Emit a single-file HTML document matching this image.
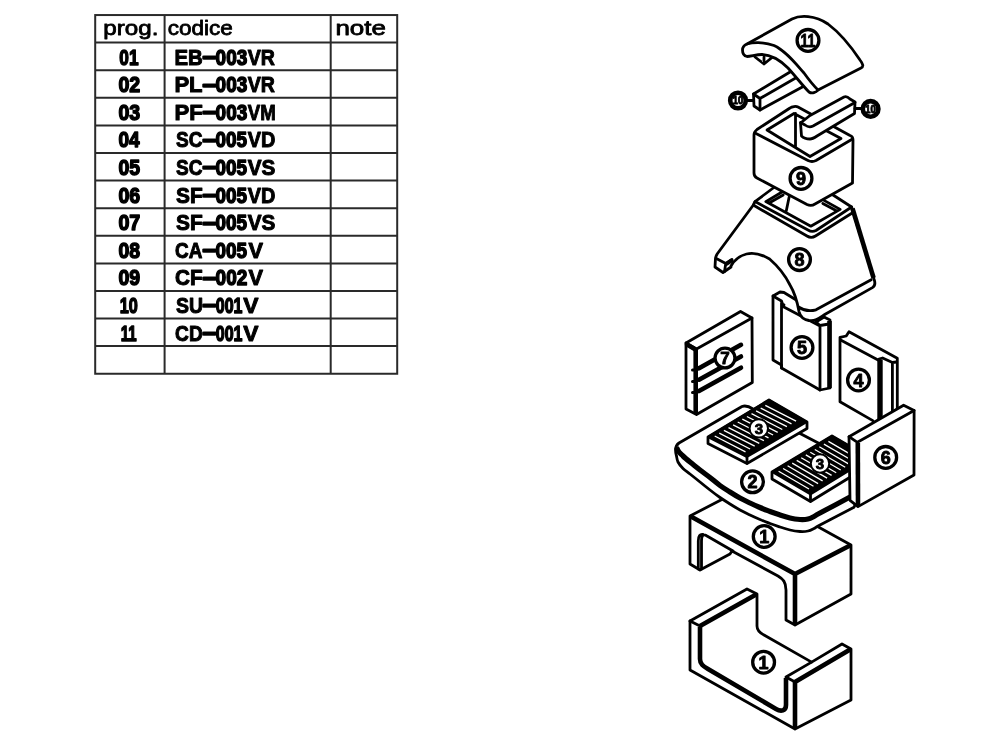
<!DOCTYPE html>
<html><head><meta charset="utf-8"><title>esploso</title>
<style>
html,body{margin:0;padding:0;background:#fff}
svg{display:block;will-change:transform}
.t{font-family:"Liberation Sans",sans-serif;font-weight:bold;font-size:22.4px;fill:#000;stroke:#000;stroke-width:1;stroke-linejoin:round}
.d{stroke-width:1.5}
.h{font-family:"Liberation Sans",sans-serif;font-size:20.5px;fill:#000;stroke:#000;stroke-width:.8;stroke-linejoin:round}
.n{font-family:"Liberation Sans",sans-serif;font-weight:bold;fill:#000;text-anchor:middle;stroke:#000;stroke-width:.9;stroke-linejoin:round}
.p{fill:#fff;stroke:#000;stroke-width:2.8;stroke-linejoin:round;stroke-linecap:round}
.l{fill:none;stroke:#000;stroke-width:2.8;stroke-linejoin:round;stroke-linecap:round}
.k{fill:none;stroke:#000;stroke-width:4.6;stroke-linejoin:round;stroke-linecap:butt}
.c{fill:#fff;stroke:#000;stroke-width:3.3}
</style></head><body>
<svg width="1000" height="750" viewBox="0 0 1000 750">
<rect width="1000" height="750" fill="#fff"/>

<g fill="none" stroke="#2a2a2a" stroke-width="2">
<rect x="95.2" y="15.05" width="302.0" height="358.7"/>
<line x1="164.6" y1="15.05" x2="164.6" y2="373.7"/>
<line x1="330.7" y1="15.05" x2="330.7" y2="373.7"/>
<line x1="95.2" y1="42.6" x2="397.2" y2="42.6"/>
<line x1="95.2" y1="70.2" x2="397.2" y2="70.2"/>
<line x1="95.2" y1="97.8" x2="397.2" y2="97.8"/>
<line x1="95.2" y1="125.4" x2="397.2" y2="125.4"/>
<line x1="95.2" y1="153.0" x2="397.2" y2="153.0"/>
<line x1="95.2" y1="180.6" x2="397.2" y2="180.6"/>
<line x1="95.2" y1="208.2" x2="397.2" y2="208.2"/>
<line x1="95.2" y1="235.8" x2="397.2" y2="235.8"/>
<line x1="95.2" y1="263.4" x2="397.2" y2="263.4"/>
<line x1="95.2" y1="290.9" x2="397.2" y2="290.9"/>
<line x1="95.2" y1="318.5" x2="397.2" y2="318.5"/>
<line x1="95.2" y1="346.1" x2="397.2" y2="346.1"/>
</g>
<text class="h" x="103.3" y="34.9" textLength="55.1" lengthAdjust="spacingAndGlyphs">prog.</text>
<text class="h" x="167.7" y="34.9" textLength="65.2" lengthAdjust="spacingAndGlyphs">codice</text>
<text class="h" x="335.4" y="34.9" textLength="50.5" lengthAdjust="spacingAndGlyphs">note</text>
<text class="t d" x="119.3" y="64.6" textLength="19.2" lengthAdjust="spacingAndGlyphs">01</text>
<text class="t" y="64.6"><tspan x="174.5" textLength="28.3" lengthAdjust="spacingAndGlyphs">EB</tspan><tspan class="d" dy="-1.6" x="202.0" textLength="14.9" lengthAdjust="spacingAndGlyphs">-</tspan><tspan class="d" dy="1.6" x="215.6" textLength="31.6" lengthAdjust="spacingAndGlyphs">003</tspan><tspan x="247.8" textLength="27.2" lengthAdjust="spacingAndGlyphs">VR</tspan></text>
<text class="t d" x="118.4" y="92.2" textLength="21.8" lengthAdjust="spacingAndGlyphs">02</text>
<text class="t" y="92.2"><tspan x="174.4" textLength="28.2" lengthAdjust="spacingAndGlyphs">PL</tspan><tspan class="d" dy="-1.6" x="202.0" textLength="14.9" lengthAdjust="spacingAndGlyphs">-</tspan><tspan class="d" dy="1.6" x="215.6" textLength="31.6" lengthAdjust="spacingAndGlyphs">003</tspan><tspan x="247.8" textLength="27.2" lengthAdjust="spacingAndGlyphs">VR</tspan></text>
<text class="t d" x="118.4" y="119.8" textLength="21.7" lengthAdjust="spacingAndGlyphs">03</text>
<text class="t" y="119.8"><tspan x="174.4" textLength="28.3" lengthAdjust="spacingAndGlyphs">PF</tspan><tspan class="d" dy="-1.6" x="202.0" textLength="14.9" lengthAdjust="spacingAndGlyphs">-</tspan><tspan class="d" dy="1.6" x="215.6" textLength="31.6" lengthAdjust="spacingAndGlyphs">003</tspan><tspan x="247.8" textLength="28.0" lengthAdjust="spacingAndGlyphs">VM</tspan></text>
<text class="t d" x="118.4" y="147.4" textLength="21.1" lengthAdjust="spacingAndGlyphs">04</text>
<text class="t" y="147.4"><tspan x="176.0" textLength="26.4" lengthAdjust="spacingAndGlyphs">SC</tspan><tspan class="d" dy="-1.6" x="202.0" textLength="14.9" lengthAdjust="spacingAndGlyphs">-</tspan><tspan class="d" dy="1.6" x="215.6" textLength="31.5" lengthAdjust="spacingAndGlyphs">005</tspan><tspan x="247.8" textLength="27.6" lengthAdjust="spacingAndGlyphs">VD</tspan></text>
<text class="t d" x="118.4" y="175.0" textLength="21.6" lengthAdjust="spacingAndGlyphs">05</text>
<text class="t" y="175.0"><tspan x="176.0" textLength="26.4" lengthAdjust="spacingAndGlyphs">SC</tspan><tspan class="d" dy="-1.6" x="202.0" textLength="14.9" lengthAdjust="spacingAndGlyphs">-</tspan><tspan class="d" dy="1.6" x="215.6" textLength="31.5" lengthAdjust="spacingAndGlyphs">005</tspan><tspan x="247.7" textLength="27.6" lengthAdjust="spacingAndGlyphs">VS</tspan></text>
<text class="t d" x="118.4" y="202.6" textLength="21.7" lengthAdjust="spacingAndGlyphs">06</text>
<text class="t" y="202.6"><tspan x="176.0" textLength="26.7" lengthAdjust="spacingAndGlyphs">SF</tspan><tspan class="d" dy="-1.6" x="202.0" textLength="14.9" lengthAdjust="spacingAndGlyphs">-</tspan><tspan class="d" dy="1.6" x="215.6" textLength="31.5" lengthAdjust="spacingAndGlyphs">005</tspan><tspan x="247.8" textLength="27.6" lengthAdjust="spacingAndGlyphs">VD</tspan></text>
<text class="t d" x="118.4" y="230.2" textLength="21.9" lengthAdjust="spacingAndGlyphs">07</text>
<text class="t" y="230.2"><tspan x="176.0" textLength="26.7" lengthAdjust="spacingAndGlyphs">SF</tspan><tspan class="d" dy="-1.6" x="202.0" textLength="14.9" lengthAdjust="spacingAndGlyphs">-</tspan><tspan class="d" dy="1.6" x="215.6" textLength="31.5" lengthAdjust="spacingAndGlyphs">005</tspan><tspan x="247.7" textLength="27.6" lengthAdjust="spacingAndGlyphs">VS</tspan></text>
<text class="t d" x="118.4" y="257.8" textLength="21.6" lengthAdjust="spacingAndGlyphs">08</text>
<text class="t" y="257.8"><tspan x="175.1" textLength="27.3" lengthAdjust="spacingAndGlyphs">CA</tspan><tspan class="d" dy="-1.6" x="202.0" textLength="14.9" lengthAdjust="spacingAndGlyphs">-</tspan><tspan class="d" dy="1.6" x="215.6" textLength="31.5" lengthAdjust="spacingAndGlyphs">005</tspan><tspan x="248.4" textLength="14.5" lengthAdjust="spacingAndGlyphs">V</tspan></text>
<text class="t d" x="118.4" y="285.4" textLength="21.7" lengthAdjust="spacingAndGlyphs">09</text>
<text class="t" y="285.4"><tspan x="175.1" textLength="27.6" lengthAdjust="spacingAndGlyphs">CF</tspan><tspan class="d" dy="-1.6" x="202.0" textLength="14.9" lengthAdjust="spacingAndGlyphs">-</tspan><tspan class="d" dy="1.6" x="215.6" textLength="31.7" lengthAdjust="spacingAndGlyphs">002</tspan><tspan x="248.4" textLength="14.5" lengthAdjust="spacingAndGlyphs">V</tspan></text>
<text class="t d" x="119.8" y="312.9" textLength="18.1" lengthAdjust="spacingAndGlyphs">10</text>
<text class="t" y="312.9"><tspan x="176.0" textLength="27.0" lengthAdjust="spacingAndGlyphs">SU</tspan><tspan class="d" dy="-1.6" x="202.0" textLength="14.9" lengthAdjust="spacingAndGlyphs">-</tspan><tspan class="d" dy="1.6" x="215.8" textLength="26.7" lengthAdjust="spacingAndGlyphs">001</tspan><tspan x="243.2" textLength="15.2" lengthAdjust="spacingAndGlyphs">V</tspan></text>
<text class="t d" x="120.8" y="340.5" textLength="15.9" lengthAdjust="spacingAndGlyphs">11</text>
<text class="t" y="340.5"><tspan x="175.1" textLength="27.6" lengthAdjust="spacingAndGlyphs">CD</tspan><tspan class="d" dy="-1.6" x="202.0" textLength="14.9" lengthAdjust="spacingAndGlyphs">-</tspan><tspan class="d" dy="1.6" x="215.8" textLength="26.7" lengthAdjust="spacingAndGlyphs">001</tspan><tspan x="243.2" textLength="15.2" lengthAdjust="spacingAndGlyphs">V</tspan></text>
<!-- PART 1 lower -->
<g id="p1b">
<path class="p" d="M690,621 L747,589 L757,594 L757,626 C757,631 760,633 764,635 L811.600,662.100 L842,644 L851,649 L851,700 L795,729 L690,670 Z"/>
<path class="l" d="M690,621 L700,626 M786,677 L795,682 M786,677 L811.600,662.100"/>
<path class="k" d="M700,626 L757,594 M795,682 L851,649 M795,682 L795,729"/>
<path class="k" d="M700,627 L700,659 C700,664 703,666 708,669 L776,709 C781,712 786,711 786,705 L786,678"/>
<circle class="c" cx="763.6" cy="662.2" r="10.9"/><text class="n" x="763.6" y="668.6" font-size="18">1</text>
</g>
<!-- PART 1 upper -->
<g id="p1a">
<path class="p" d="M690,516 L746,487 L851,545 L851,594 L795,625 L786,620 L786,590 C786,582 783,579 778,576 L732,551 L730,554 L700,570 L690,564 Z"/>
<path class="l" d="M701.500,569 L701.500,541 C701.500,535.500 703,533.500 707,536 L733,551 M698.300,569 L698.300,541 C698.300,536 700,534 703,534.500"/>
<path class="k" d="M690,516 L795,574 L851,545 M795,574 L795,625"/>
<circle class="c" cx="764.2" cy="536.5" r="10.9"/><text class="n" x="764.2" y="543" font-size="18">1</text>
</g>
<!-- PART 2 -->
<g id="p2">
<path class="p" d="M676.5,456.0 C676.8,457.0 676.9,459.9 678.0,462.0 C679.1,464.1 681.0,466.5 683.0,468.5 C685.0,470.5 687.2,471.8 690.0,474.0 C692.8,476.2 696.7,479.3 700.0,482.0 C703.3,484.7 706.7,487.4 710.0,490.0 C713.3,492.6 716.7,495.2 720.0,497.5 C723.3,499.8 726.7,501.9 730.0,504.0 C733.3,506.1 736.7,508.2 740.0,510.0 C743.3,511.8 746.7,513.4 750.0,515.0 C753.3,516.6 756.7,518.1 760.0,519.5 C763.3,520.9 766.7,522.2 770.0,523.5 C773.3,524.8 776.7,525.9 780.0,527.0 C783.3,528.1 786.7,529.2 790.0,530.0 C793.3,530.8 797.0,531.3 800.0,531.5 C803.0,531.7 805.7,531.5 808.0,531.0 C810.3,530.5 812.0,529.5 814.0,528.5 C816.0,527.5 813.7,528.4 820.0,525.0 C826.3,521.6 848.5,510.2 854,507.3 L870,470 L753,409 C750,407 746,405 742,406.500 L679,443 C675.500,445.500 675,451 676.500,456 Z"/>
<path class="k" style="stroke-width:5.2" d="M676.5,447.5 C676.9,448.2 677.9,450.6 679.0,452.0 C680.1,453.4 681.2,454.3 683.0,456.0 C684.8,457.7 687.2,459.7 690.0,462.0 C692.8,464.3 696.7,467.4 700.0,470.0 C703.3,472.6 706.7,474.9 710.0,477.5 C713.3,480.1 716.7,483.1 720.0,485.5 C723.3,487.9 726.7,489.9 730.0,492.0 C733.3,494.1 736.7,496.2 740.0,498.0 C743.3,499.8 746.7,501.4 750.0,503.0 C753.3,504.6 756.7,506.1 760.0,507.5 C763.3,508.9 766.7,510.2 770.0,511.5 C773.3,512.8 776.7,513.9 780.0,515.0 C783.3,516.1 786.7,517.2 790.0,518.0 C793.3,518.8 797.0,519.3 800.0,519.5 C803.0,519.7 805.7,519.5 808.0,519.0 C810.3,518.5 812.0,517.5 814.0,516.5 C816.0,515.5 814.0,516.2 820.0,513.0 C826.0,509.8 845.0,499.7 850.0,497.0"/>
<circle class="c" cx="752.5" cy="481.8" r="10.9"/><text class="n" x="752.5" y="488.3" font-size="18">2</text>
</g>
<!-- GRATES 3 -->
<g id="p3a">
<path class="p" d="M708,437 L769,400 L807,422 L807,428.500 L747,463.500 L708,443.500 Z"/>
<path d="M708,437 L769,400 L807,422 L747,457 Z" fill="#000" stroke="#000" stroke-width="2" stroke-linejoin="round"/>
<path class="l" d="M747,457 L747,463"/>
<g stroke="#fff" stroke-width="1.3" fill="none">
<path d="M714.7,436.0 L745.5,451.8 M719.3,433.2 L750.1,449.0 M723.9,430.4 L754.7,446.2 M728.5,427.6 L759.3,443.4 M733.1,424.8 L763.9,440.6 M737.7,422.0 L768.5,437.8 M742.3,419.2 L773.1,435.0 M746.9,416.5 L777.7,432.3 M751.5,413.7 L782.3,429.5 M756.1,410.9 L786.9,426.7 M760.7,408.1 L791.5,423.9 M765.3,405.3 L796.1,421.1"/>
</g>
<circle cx="758.8" cy="428.4" r="9.2" fill="#fff" stroke="#000" stroke-width="2"/><text class="n" x="758.8" y="434" font-size="15">3</text>
</g>
<g id="p3b">
<path class="p" d="M772,472 L832,436 L870,458 L870,465 L810.500,501.500 L772,479 Z"/>
<path d="M772,472 L832,436 L870,458 L810.500,494.500 Z" fill="#000" stroke="#000" stroke-width="2" stroke-linejoin="round"/>
<path class="l" d="M810.500,494.500 L810.500,501"/>
<g stroke="#fff" stroke-width="1.3" fill="none">
<path d="M778.6,471.2 L809.0,489.0 M783.1,468.5 L813.5,486.3 M787.6,465.8 L818.1,483.6 M792.2,463.1 L822.6,480.9 M796.7,460.4 L827.1,478.1 M801.2,457.7 L831.6,475.4 M805.8,454.9 L836.2,472.7 M810.3,452.2 L840.7,470.0 M814.8,449.5 L845.2,467.3 M819.3,446.8 L849.8,464.6 M823.9,444.1 L854.3,461.8 M828.4,441.4 L858.8,459.1"/>
</g>
<circle cx="820" cy="463.500" r="9.2" fill="#fff" stroke="#000" stroke-width="2"/><text class="n" x="820" y="469" font-size="15">3</text>
</g>
<!-- PART 4 -->
<g id="p4">
<path class="p" d="M840,337.300 L846.200,336 L849,331.700 L897.300,358.300 L897.300,425 L879,432 L872.800,420.600 L840,401.700 Z"/>
<path class="l" d="M840.600,340 L879,360.400 M879,359 L882.600,358 L892.400,362.500 L896.600,362 M892.400,363 L892.400,420"/>
<path class="k" style="stroke-width:5.4" d="M880,359.500 L880,428"/>
<circle class="c" cx="858.500" cy="380" r="10.9"/><text class="n" x="858.500" y="386.500" font-size="18">4</text>
</g>
<!-- PART 6 -->
<g id="p6">
<path class="p" d="M849,436.700 L903.600,405.200 L914.100,410.500 L914,475 L858,506.600 L850,500.300 Z"/>
<path class="l" d="M849,436.700 L857.400,442.300 L914.100,410.500"/>
<path class="k" d="M857.800,443 L858,506"/>
<circle class="c" cx="885.700" cy="457.400" r="10.9"/><text class="n" x="885.700" y="464" font-size="18">6</text>
</g>
<!-- PART 7 -->
<g id="p7">
<path class="p" d="M686,343 L740.500,311.500 L752,318 L752.300,382.500 L696.500,414.500 L686,409 Z"/>
<path class="l" d="M686,343 L696.500,349 L752,318"/>
<path class="k" d="M695.700,350 L695.700,413.500"/>
<path d="M687,344.500 L695.500,349.500" stroke="#000" stroke-width="4.500" fill="none" stroke-linecap="round"/>
<path d="M699,368.300 L741,344.800 M699,379.700 L741,356.500 M699,391 L741,367.700" stroke="#000" stroke-width="4.600" fill="none" stroke-linecap="round"/>
<path d="M692.500,370 L695,370 M692.500,381.500 L695,381.500 M692.500,392.500 L695,392.500" stroke="#000" stroke-width="3" fill="none" stroke-linecap="round"/>
<circle cx="725" cy="358" r="9.900" fill="#fff" stroke="#000" stroke-width="3.200"/><text class="n" x="725" y="364" font-size="17">7</text>
</g>
<!-- PART 5 -->
<g id="p5">
<path class="p" d="M773,296 L780,292 L784,292.500 L824,317 L830,320 L830,388 L820,390 L781.500,368 L781.500,365 L773,360 Z"/>
<path class="l" d="M773,296 L781.500,301 L782.500,304 L784,305 M782,306 L820,326 M816,322 L820,325.500 L829,324 M816,322 L824,317 M781.500,303 L781.500,368 M820,326 L820,390"/>
<path class="k" d="M829.500,321 L829.500,388"/>
<circle class="c" cx="802" cy="347.500" r="10.9"/><text class="n" x="802" y="354" font-size="18">5</text>
</g>
<!-- PART 8 -->
<g id="p8">
<path class="p" d="M755,201.600 L796,171 L851.600,207 L874,279 C875.500,283 875,286 872.400,287.600 L825.600,314 C820,317.500 816,321.500 809,320.500 C803,319.500 800,316 799,311.500 C797,300 793,290 790,285 C786,277 780,268 769.600,259 C762,254.500 753,252.500 746.500,254 C740.500,255.500 734.500,260 731,266 L731,267 L723,272.500 L715,267 L715.500,258 C716,256 716.500,255 717.500,253.500 L753,205.500 Z"/>
<path class="l" d="M716.800,258.800 L725.800,263.400 L724.500,271.500 M725.800,263.400 L732,259.500"/>
<path d="M726.500,263.800 L731.500,260.500" stroke="#000" stroke-width="4" fill="none" stroke-linecap="round"/>
<path class="l" d="M798.500,307 C803,310 808,312 816,309.800 L871.200,279.800"/>
<path class="k" d="M852.500,208.500 L873.600,278"/>
<path class="l" d="M755,201.600 L808,230 C811,232 813,232 816,230.500 L851.600,207"/>
<path class="l" d="M754.500,205.800 L807,236 C810,238 812.500,238 815.500,236 L852.200,213"/>
<path class="l" d="M765.800,201.600 L782,192 M824,200.400 L840.200,209.400 L810.800,226.200 L765.800,201.600 M770,202.500 L783.200,195 M822.800,203.400 L836,210.600 M789.200,196.800 L786.200,211.200"/>
<circle class="c" cx="799.500" cy="259.600" r="10.9"/><text class="n" x="799.500" y="266" font-size="18">8</text>
</g>
<!-- PART 9 -->
<g id="p9">
<path class="p" d="M754,135 C754,132 755,131 757,129.500 L790,108 C792,106.500 796,106 798,107 L850,135.500 C852,136 853,137.500 853,140 L852.500,183 L815,204 C812,206 810,206 807,204.500 L757,178 C755,177 754,175.500 754,173 Z"/>
<path class="l" d="M755,133 L808,160.500 C811,162 813,162 816,160.500 L852.500,139"/>
<path class="l" d="M767,130 L794,113.500 L841,138.500 L810,156.500 Z M795.500,113.500 L795.500,147"/>
<circle class="c" cx="801" cy="178.400" r="10.9"/><text class="n" x="801" y="185" font-size="18">9</text>
</g>
<!-- PART 10 right -->
<g id="p10r">
<path class="p" d="M800.500,123 L810,115.500 L844,97 C846,96 848,97 850,99 L855,102 L854.500,113.500 L817,136 C814,138 812,139 810,139 C806,139 803,137.500 801.500,136 Z"/>
<path class="l" d="M855,102.500 L813,126 C810,127.500 807,126.500 805,125 L800.500,122.500"/>
<path class="l" d="M855,108.500 L862,108.500"/>
<circle cx="870.600" cy="108.900" r="7.800" fill="#fff" stroke="#000" stroke-width="4.600"/><text class="n" x="870.600" y="112.800" font-size="10.500" textLength="10.500" lengthAdjust="spacingAndGlyphs">10</text>
</g>
<!-- PART 10 left -->
<g id="p10l">
<path class="p" d="M753.500,94 L795,69 L806,74 L806,85 L760,110 L754,106 Z"/>
<path class="l" d="M753.500,94 L760,98.500 L760,110 M760,98.500 L800,75.500"/>
<path class="l" d="M746,100.500 L753.500,100.500"/>
<circle cx="738" cy="100.500" r="7.800" fill="#fff" stroke="#000" stroke-width="4.600"/><text class="n" x="738" y="104.400" font-size="10.500" textLength="10.500" lengthAdjust="spacingAndGlyphs">10</text>
</g>
<!-- PART 11 -->
<g id="p11">
<path class="p" d="M742.500,50 C742.500,46.500 744.500,45 747,44 L792,19 C800,15 815,15 828,24 C840,33 852,48 860,60 C863,64 864,66.500 861,68 L818,90 C816,92.500 812,94 809,92 C803,86 797,78 788,68 C780,60 772,55 762,54.500 C756,54.500 751,56.500 747,56.500 C744.500,56 742.500,53.500 742.500,50 Z"/>
<path class="l" d="M747,44 C752,42.500 763,41.500 774,45.500 C786,51 796,64 804,73 C809,80 814,86 818,90"/>
<path class="l" d="M755,57 L764,64 L772,57.500 M764,57 L764,64"/>
<circle class="c" cx="808" cy="40.4" r="10.9"/><text class="n" x="808" y="46.700" font-size="18" textLength="15" lengthAdjust="spacingAndGlyphs">11</text>
</g>

</svg>
</body></html>
